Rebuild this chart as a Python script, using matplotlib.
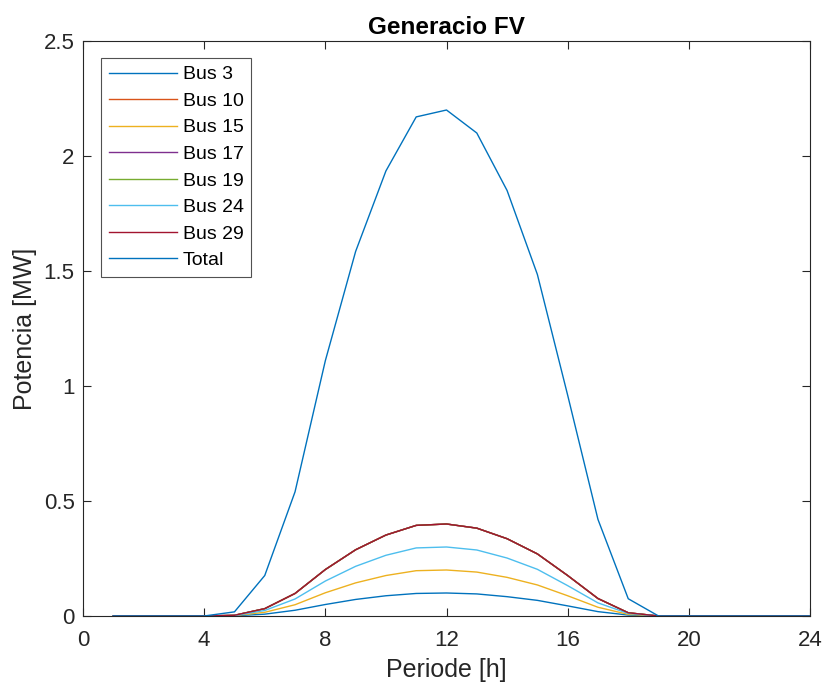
import matplotlib
matplotlib.use("Agg")
import matplotlib.pyplot as plt

hours = list(range(1, 25))
bus3 = [0, 0, 0, 0, 0.001, 0.008, 0.025, 0.050, 0.072, 0.088, 0.098, 0.100,
        0.096, 0.084, 0.068, 0.044, 0.019, 0.004, 0, 0, 0, 0, 0, 0]
bus10 = [0, 0, 0, 0, 0.003, 0.032, 0.098, 0.202, 0.288, 0.352, 0.394, 0.400,
         0.382, 0.336, 0.270, 0.176, 0.076, 0.014, 0, 0, 0, 0, 0, 0]
bus15 = [0, 0, 0, 0, 0.002, 0.016, 0.049, 0.101, 0.144, 0.176, 0.197, 0.200,
         0.191, 0.168, 0.135, 0.088, 0.038, 0.007, 0, 0, 0, 0, 0, 0]
bus17 = [0, 0, 0, 0, 0.003, 0.032, 0.098, 0.202, 0.288, 0.352, 0.394, 0.400,
         0.382, 0.336, 0.270, 0.176, 0.076, 0.014, 0, 0, 0, 0, 0, 0]
bus19 = [0, 0, 0, 0, 0.003, 0.032, 0.098, 0.202, 0.288, 0.352, 0.394, 0.400,
         0.382, 0.336, 0.270, 0.176, 0.076, 0.014, 0, 0, 0, 0, 0, 0]
bus24 = [0, 0, 0, 0, 0.002, 0.024, 0.074, 0.152, 0.216, 0.264, 0.296, 0.300,
         0.287, 0.252, 0.203, 0.132, 0.057, 0.011, 0, 0, 0, 0, 0, 0]
bus29 = [0, 0, 0, 0, 0.003, 0.032, 0.098, 0.202, 0.288, 0.352, 0.394, 0.400,
         0.382, 0.336, 0.270, 0.176, 0.076, 0.014, 0, 0, 0, 0, 0, 0]
total = [0, 0, 0, 0, 0.018, 0.176, 0.540, 1.110, 1.585, 1.935, 2.170, 2.200,
         2.100, 1.850, 1.485, 0.960, 0.420, 0.075, 0, 0, 0, 0, 0, 0]

series = [("Bus 3", bus3), ("Bus 10", bus10), ("Bus 15", bus15), ("Bus 17", bus17),
          ("Bus 19", bus19), ("Bus 24", bus24), ("Bus 29", bus29), ("Total", total)]
colors = ["#0072BD", "#D95319", "#EDB120", "#7E2F8E", "#77AC30", "#4DBEEE",
          "#A2142F", "#0072BD"]

xticks = [0, 4, 8, 12, 16, 20, 24]
yticks = [0, 0.5, 1, 1.5, 2, 2.5]
ytick_labels = ["0", "0.5", "1", "1.5", "2", "2.5"]

plt.rcParams['font.family'] = ['Liberation Sans', 'DejaVu Sans']
fig = plt.figure(figsize=(8.24, 6.86), dpi=100)
ax = fig.add_axes([83/824, 1 - 616/686, (810 - 83)/824, (616 - 41)/686])

for (name, vals), c in zip(series, colors):
    ax.plot(hours, vals, color=c, lw=1.0, label=name)

axc = "#262626"
ax.set_xlim(0, 24)
ax.set_ylim(0, 2.5)
ax.set_xticks(xticks)
ax.set_yticks(yticks)
ax.set_yticklabels(ytick_labels)
ax.tick_params(direction="in", length=6, width=0.8, colors=axc, labelsize=16,
               top=True, right=True, pad=6)
ax.tick_params(axis="x", pad=10)
for s in ax.spines.values():
    s.set_color(axc)
    s.set_linewidth(0.8)

ax.set_xlabel("Periode [h]", fontsize=18, color=axc, labelpad=5)
ax.set_ylabel("Potencia [MW]", fontsize=18, color=axc, labelpad=5)
ax.set_title("Generacio FV", fontsize=17.5, fontweight="bold", color="black", pad=5)

leg = ax.legend(loc="upper left", bbox_to_anchor=(101/824, 1 - 58/686),
                bbox_transform=fig.transFigure, fontsize=14, frameon=True,
                fancybox=False, handlelength=3.5, handletextpad=0.3,
                labelspacing=0.46, borderpad=0.4, borderaxespad=0)
leg.get_frame().set_edgecolor(axc)
leg.get_frame().set_linewidth(0.8)

fig.savefig("out.png", dpi=100)
